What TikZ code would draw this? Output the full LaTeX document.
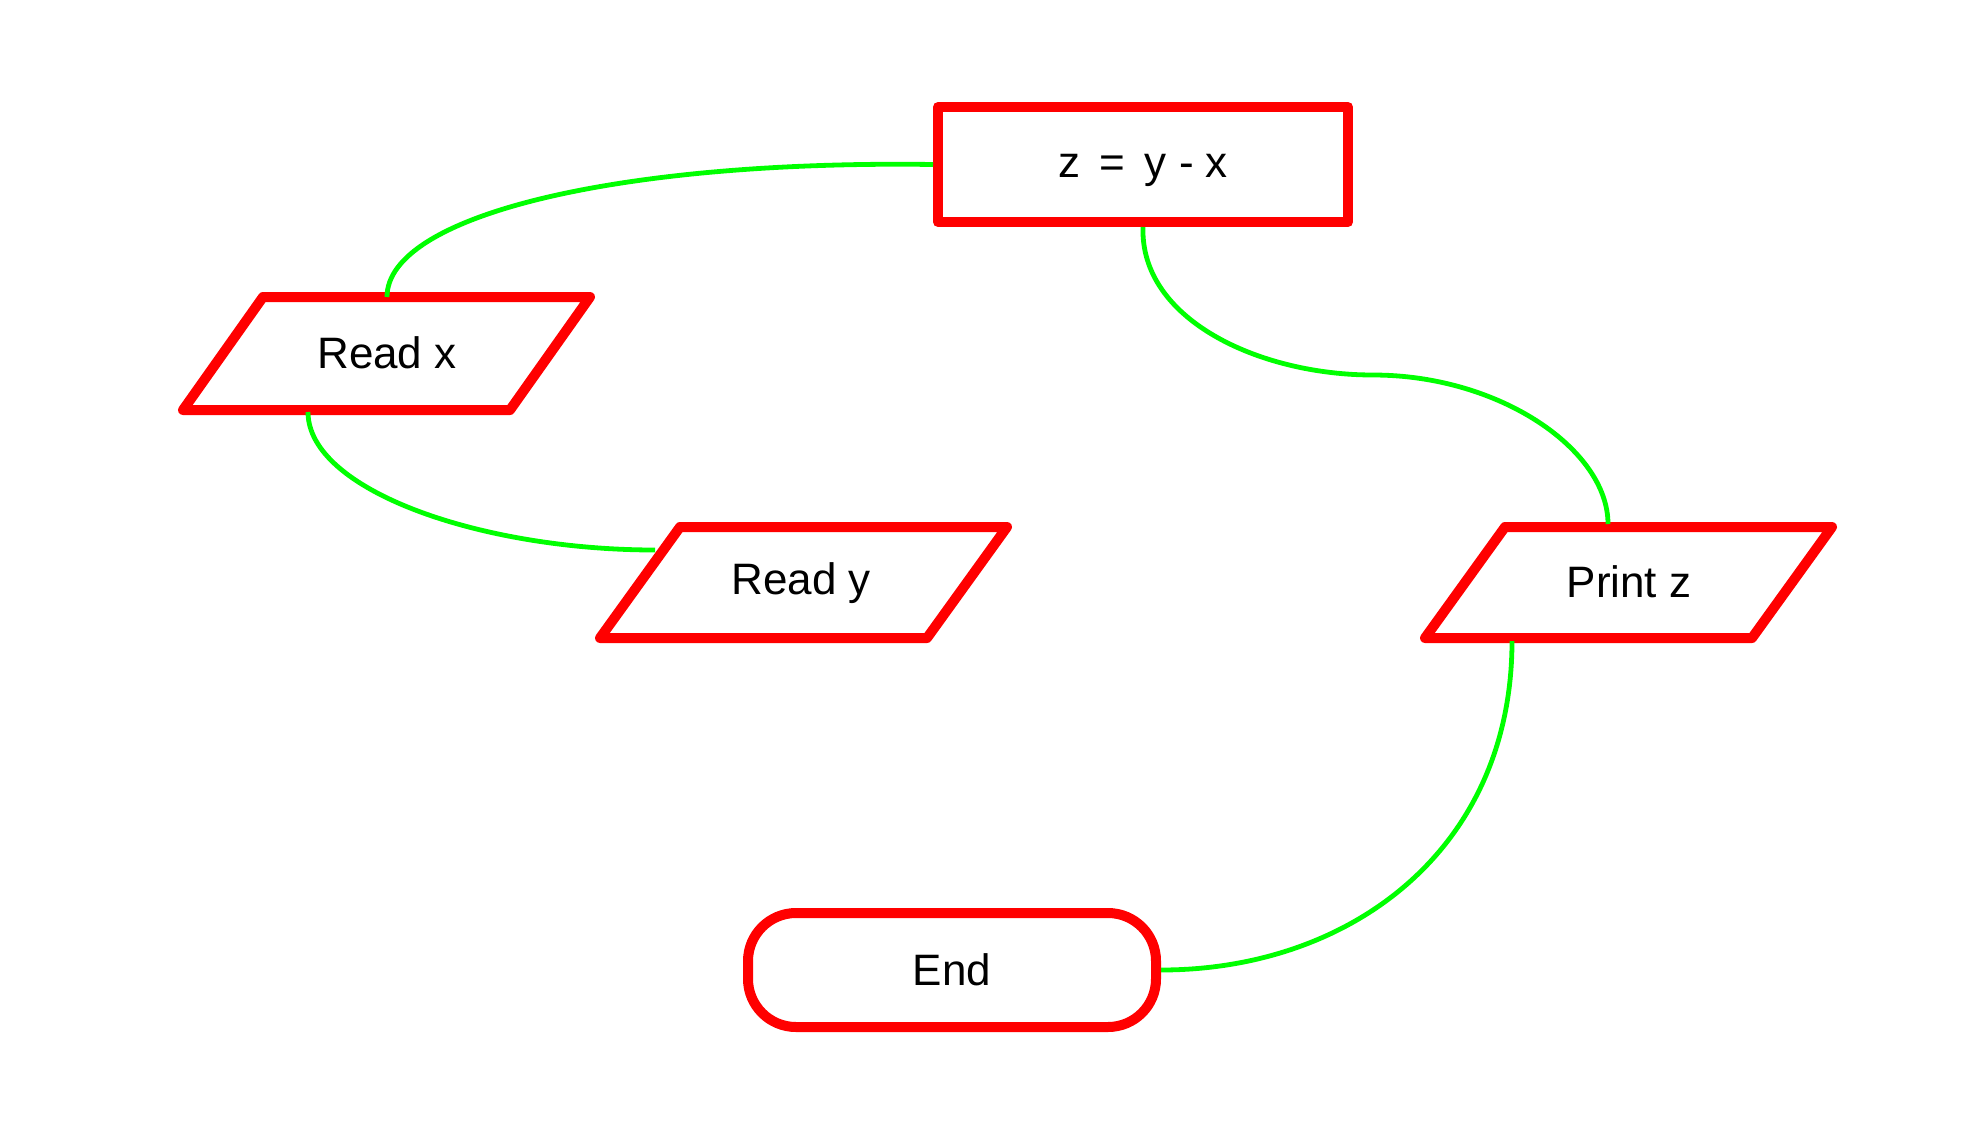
\documentclass[tikz,border=0pt]{standalone}
\usepackage{fontspec}
\setmainfont{Liberation Sans}
\begin{document}
\begin{tikzpicture}[x=0.5pt,y=-0.5pt,
  shapebox/.style={draw=red, line width=5pt, line join=round},
  link/.style={draw=green, line width=2.4pt},
  lbl/.style={font=\fontsize{22}{26}\selectfont, inner sep=0pt}]
\useasboundingbox[fill=white] (0,0) rectangle (1975,1125);

% process box
\node[shapebox, minimum width=205pt, minimum height=57.5pt] (calc) at (1143,164.5) {};
\node[lbl] (calctext) at (1143,170) {z\, = \,y - x};

% Read x
\node[lbl] (readx) at (387,353) {Read x};
\draw[shapebox] (263,297) -- (590,297) -- (510,410) -- (183,410) -- cycle;
\coordinate (readxtop) at (387,297);
\coordinate (readxbot) at (308,412);

% Read y
\node[lbl] (ready) at (801,583) {Read y};
\draw[shapebox] (680,527) -- (1007,527) -- (927,638) -- (600,638) -- cycle;
\coordinate (readyleft) at (655,550);

% Print z
\node[lbl] (printz) at (1629,582) {Print z};
\draw[shapebox] (1505,527) -- (1832,527) -- (1752,638) -- (1425,638) -- cycle;
\coordinate (printztop) at (1608,524);
\coordinate (printzbot) at (1512,641);

% End
\node[shapebox, lbl, minimum width=204pt, minimum height=57pt, rounded corners=24pt] (endn) at (952,970) {End};

% connectors
\coordinate (mid) at (1373,375);
\draw[link] (calc.west) .. controls (620,160) and (387,215) .. (readxtop);
\draw[link] (readxbot) .. controls (308,490) and (480,550) .. (readyleft);
\draw[link] (calc.south) .. controls (1140,320) and (1260,375) .. (mid)
            .. controls (1500,375) and (1608,450) .. (printztop);
\draw[link] (printzbot) .. controls (1512,850) and (1350,970) .. (endn.east);
\end{tikzpicture}
\end{document}
